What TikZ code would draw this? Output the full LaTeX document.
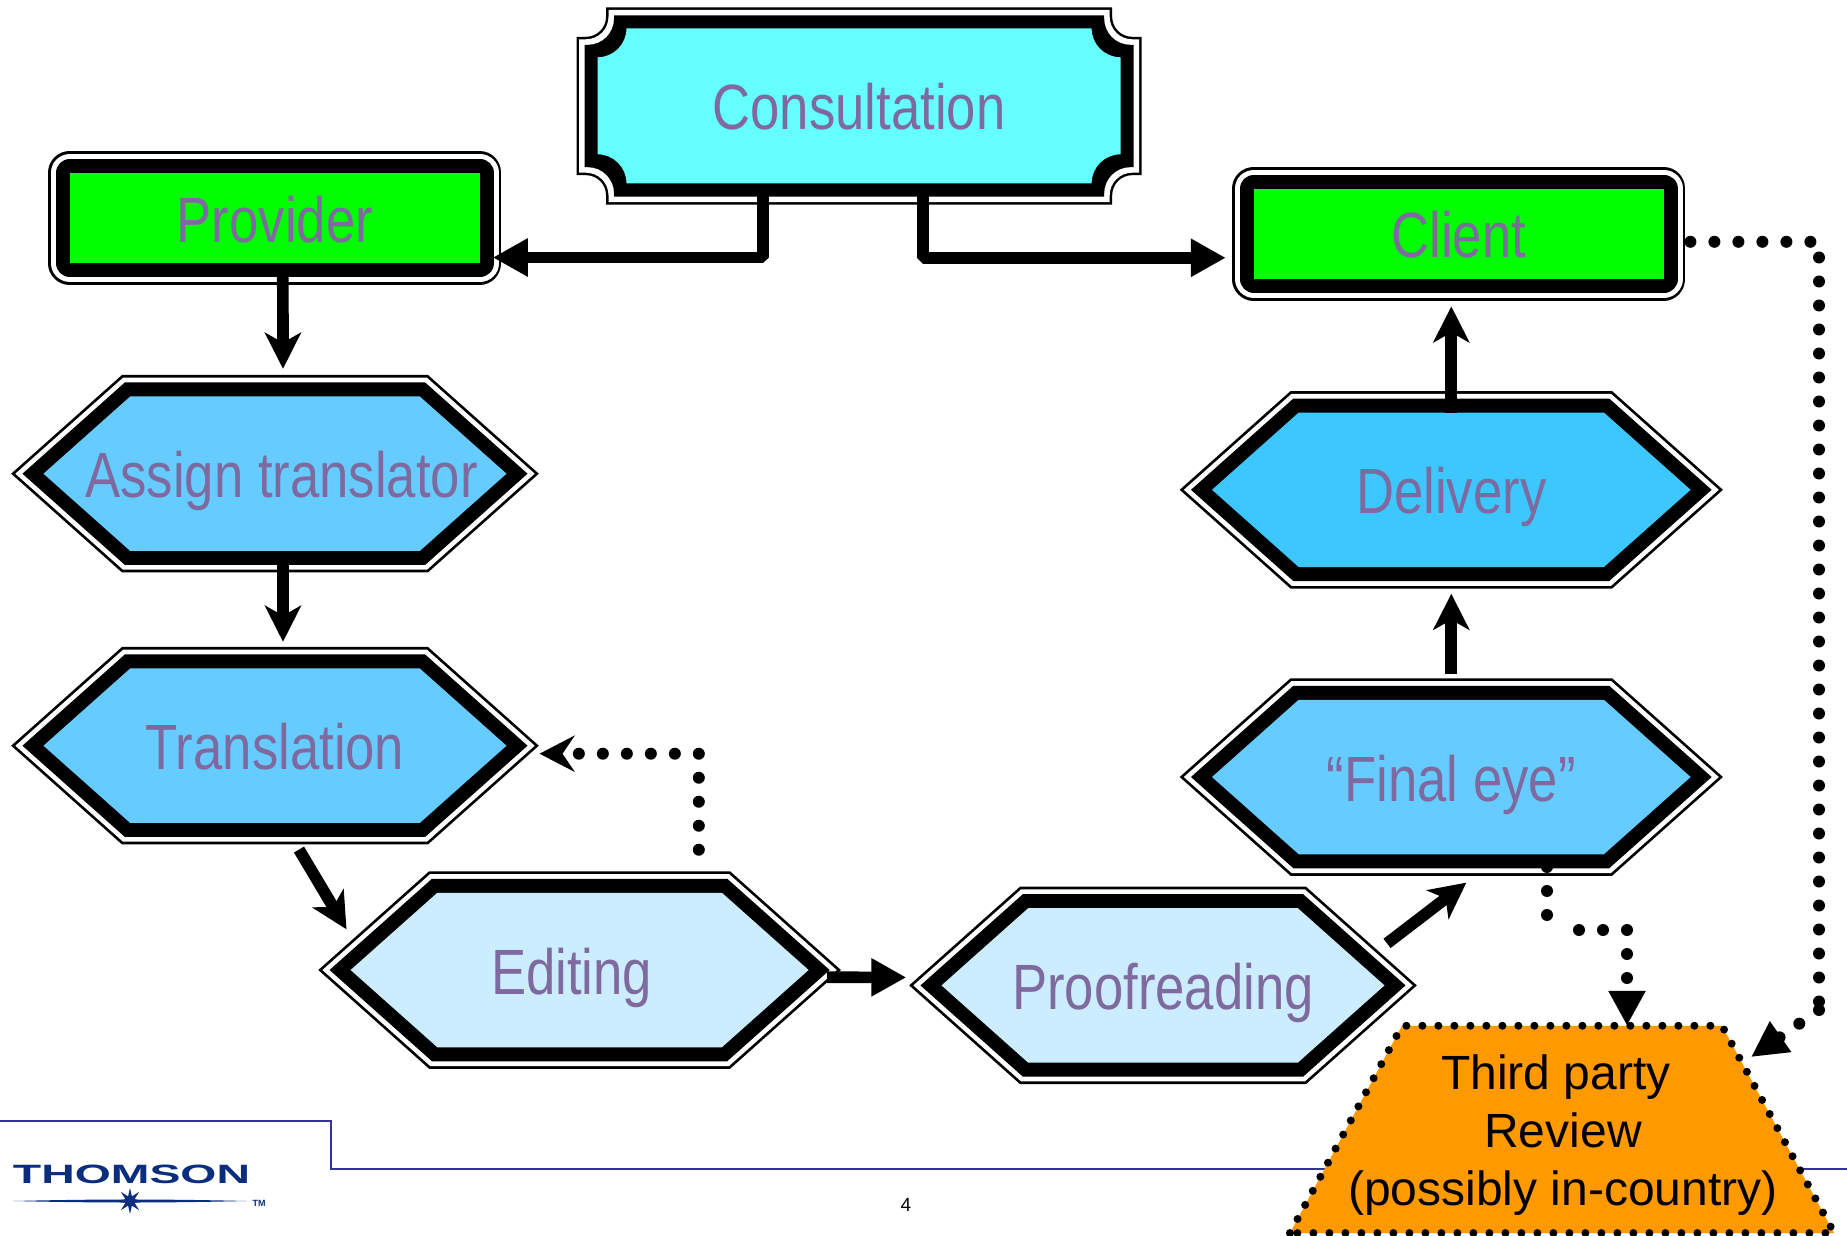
\documentclass[tikz,border=0pt]{standalone}
\usepackage{fontspec}
\usetikzlibrary{arrows.meta,shapes.symbols,shapes.geometric}
\newfontfamily\narrowfont[FakeStretch=0.823]{Liberation Sans}
\newfontfamily\plainfont{Liberation Sans}
\newfontfamily\logofont[FakeStretch=1.75]{Liberation Sans Bold}
\definecolor{lbl}{HTML}{7F6A9F}
\definecolor{rulecol}{HTML}{333399}
\definecolor{logocol}{HTML}{0A2D7D}
\definecolor{hexblue}{HTML}{66CCFF}
\definecolor{hexpale}{HTML}{CCECFF}
\definecolor{hexdeep}{HTML}{3CC8FF}
\definecolor{aqua}{HTML}{66FFFF}
\definecolor{reviewcol}{HTML}{FF9900}
\newcommand{\lab}[1]{\makebox[0pt]{#1}}
% colour, left, top, right, bottom, notch, arc radius
\newcommand{\notchbox}[7]{\fill[#1] ({#2+#6},{-#3}) -- ({#4-#6},{-#3}) -- ({#4-#6},{-(#3+#6-#7)})
  arc[start angle=180,end angle=270,radius=#7pt] -- ({#4},{-(#3+#6)}) -- ({#4},{-(#5-#6)}) -- ({#4-#6+#7},{-(#5-#6)})
  arc[start angle=90,end angle=180,radius=#7pt] -- ({#4-#6},{-#5}) -- ({#2+#6},{-#5}) -- ({#2+#6},{-(#5-#6+#7)})
  arc[start angle=0,end angle=90,radius=#7pt] -- ({#2},{-(#5-#6)}) -- ({#2},{-(#3+#6)}) -- ({#2+#6-#7},{-(#3+#6)})
  arc[start angle=270,end angle=360,radius=#7pt] -- cycle;}
\tikzset{
  ringbox/.style={preaction={draw=black,line width=43pt},
    preaction={draw=white,line width=37.5pt},
    preaction={draw=black,line width=28pt},
    inner sep=0pt,outer sep=0pt},
  lbltext/.style={text=lbl,font=\narrowfont\fontsize{64}{64}\selectfont,
    text height=64pt,text depth=16pt,inner sep=0pt,outer sep=0pt},
  hexbox/.style={ringbox,lbltext,signal,signal to=west and east,
    signal pointer angle=83.4,minimum height=154.5pt},
  plainbox/.style={lbltext,rectangle,line join=round,
    preaction={draw=black,line width=43pt,line join=round},
    preaction={draw=white,line width=37.5pt,line join=round},
    preaction={draw=black,line width=28pt,line join=round}},
  flow/.style={line width=11.7pt,-{Stealth[length=36pt,width=36pt,inset=10pt]}},
  flowtri/.style={line width=11.7pt,line join=bevel,-{Triangle[length=35pt,width=36pt]}},
  dotline/.style={line width=12pt,line cap=round,dash pattern=on 0pt off 24pt},
}
\begin{document}
\begin{tikzpicture}[x=1pt,y=1pt]
\useasboundingbox (0,0) rectangle (1847,-1236);
% footer
\draw[rulecol,line width=1.2pt] (0,-1121) -- (331,-1121) -- (331,-1169) -- (1847,-1169);
\node[text=logocol,font=\logofont\fontsize{26.5}{26.5}\selectfont,inner sep=0pt] (logo) at (131.5,-1174.5) {THOMSON};
\fill[logocol] (13,-1201) .. controls (100,-1203) and (160,-1203) .. (247,-1201)
  .. controls (160,-1199) and (100,-1199) .. (13,-1201) -- cycle;
\node[star,star points=8,star point ratio=2.6,fill=logocol,minimum size=26pt,inner sep=0pt] (logostar) at (130,-1201) {};
\node[text=logocol,font=\plainfont\bfseries\fontsize{9}{9}\selectfont,inner sep=0pt] (logotm) at (259,-1203) {TM};
\node[font=\plainfont\fontsize{19}{19}\selectfont,inner sep=0pt] (pagenum) at (906,-1205) {4};

\notchbox{black}{576.5}{7.3}{1141.7}{204.7}{29.5}{20}
\notchbox{white}{579}{9.8}{1139.2}{202.2}{29.5}{22.5}
\notchbox{black}{584.5}{15.3}{1133.7}{196.7}{29.5}{26}
\notchbox{aqua}{597.5}{28.3}{1120.6}{183.3}{29}{29}
\node[lbltext,minimum width=523pt,minimum height=155pt] (consult) at (859,-105.8) {Consultation};

\node[plainbox,fill=green,minimum width=410pt,minimum height=90.6pt] (provider) at (274.8,-218) {Provider};
\node[plainbox,fill=green,minimum width=410pt,minimum height=90.4pt] (client) at (1458.8,-233.8) {Client};

\node[hexbox,fill=hexblue,minimum width=463pt] (assign) at (275,-473.7) {\lab{\hspace*{13pt}Assign translator}};
\node[hexbox,fill=hexblue,minimum width=463pt] (translation) at (275,-745.7) {\lab{Translation}};
\node[hexbox,fill=hexpale,minimum width=458pt] (editing) at (579.6,-970) {\lab{Editing\hspace*{16pt}}};
\node[hexbox,fill=hexpale,minimum width=443pt] (proof) at (1163,-985.4) {\lab{Proofreading}};
\node[hexbox,fill=hexdeep,minimum width=478.6pt] (delivery) at (1451.3,-489.8) {\lab{Delivery}};
\node[hexbox,fill=hexblue,minimum width=478.6pt] (finaleye) at (1451.3,-777) {\lab{“Final eye”}};

\node[trapezium,trapezium left angle=61.6,trapezium right angle=61.6,
  draw=black,line width=8pt,line cap=round,dash pattern=on 0pt off 16pt,fill=reviewcol,
  inner sep=0pt,outer sep=0pt] (review) at (1562,-1129.4) {\phantom{\rule{320pt}{207.3pt}}};
\node[align=center,inner sep=0pt,font=\plainfont\fontsize{48}{58}\selectfont] (reviewtext) at (1563,-1135)
  {Third party\hspace*{14pt}\\Review\\(possibly in-country)};

% connectors
\draw[flowtri] ([shift={(-96pt,-4pt)}]consult.south) |- ([xshift=13pt,yshift=-39.5pt]provider.east);
\draw[flowtri] ([shift={(64pt,-4pt)}]consult.south) |- ([xshift=-28pt,yshift=-24pt]client.west);
\draw[flow] ([xshift=8pt]provider.south) -- ([xshift=8pt,yshift=27.7pt]assign.north);
\draw[flow] ([xshift=8pt]assign.south) -- ([xshift=8pt,yshift=26.7pt]translation.north);
\draw[flow] ([shift={(24pt,-26.6pt)}]translation.south) -- ([shift={(-4.1pt,40.7pt)}]editing.west);
\draw[flowtri] ([shift={(18.4pt,-7.3pt)}]editing.east) -- ([shift={(-35.2pt,8pt)}]proof.west);
\draw[flow] ([shift={(2.5pt,42pt)}]proof.east) -- ([shift={(15pt,-28.4pt)}]finaleye.south);
\draw[flow] ([yshift=25.7pt]finaleye.north) -- ([yshift=-26.7pt]delivery.south);
\draw[flow] (delivery.north) -- ([yshift=-27.4pt]delivery.north |- client.south);

% dotted connectors
\coordinate (editturn) at (698.8,-753.7);
\draw[dotline,-{Stealth[length=35pt,width=36pt,inset=12pt]}] ([shift={(119.2pt,43pt)}]editing.north) |- ([xshift=33pt]translation.east |- editturn);
\coordinate (eyedrop) at (1547,-938);
\coordinate (eyerun) at (1579,-930);
\draw[dotline,-{Triangle[length=35pt,width=35pt]}] ([shift={(95.7pt,-12.7pt)}]finaleye.south) -- (eyedrop)
  (eyerun) -| ([xshift=65pt]review.north);
\coordinate (clientrun) at (1812,-241.8);
\coordinate (railtop) at (1819,-257.5);
\coordinate (railend) at (1819,-1010);
\draw[dotline,-{Triangle[length=36pt,width=35pt]}] ([shift={(26.6pt,-8pt)}]client.east) -- (clientrun)
  (railtop) -- (railend) (railend) -- ([shift={(29pt,-31.3pt)}]review.top right corner);
\end{tikzpicture}
\end{document}
